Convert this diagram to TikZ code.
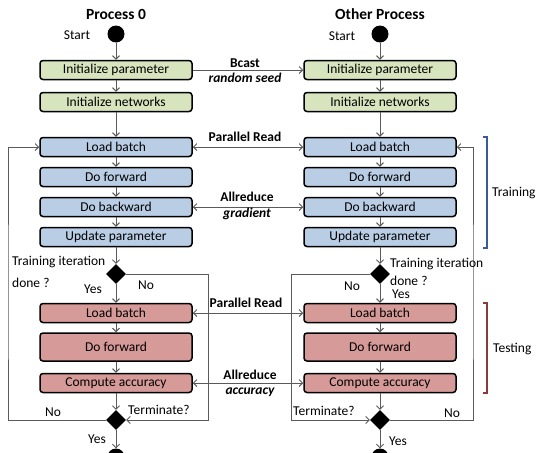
\documentclass[tikz,border=0pt]{standalone}
\usepackage{fontspec}
\setmainfont{Carlito}
\usetikzlibrary{arrows.meta,shapes.geometric}
\definecolor{boxgreen}{HTML}{D7E4BD}
\definecolor{boxblue}{HTML}{B9CDE5}
\definecolor{boxred}{HTML}{D69A98}
\definecolor{linegray}{HTML}{5A5A5A}
\definecolor{brblue}{HTML}{3A5A9A}
\definecolor{brred}{HTML}{8B3A3A}
\begin{document}
\begin{tikzpicture}[x=1pt,y=-1pt,
  font=\fontsize{13.5}{15}\selectfont,
  box/.style={draw=black,line width=1.5pt,rounded corners=3pt,minimum width=152pt,minimum height=19pt,inner sep=0pt},
  gbox/.style={box,fill=boxgreen},
  bbox/.style={box,fill=boxblue},
  rbox/.style={box,fill=boxred},
  conn/.style={draw=linegray,line width=0.9pt,-{Straight Barb[length=3.5pt,width=7pt]}},
  dconn/.style={draw=linegray,line width=0.9pt,{Straight Barb[length=3.5pt,width=7pt]}-{Straight Barb[length=3.5pt,width=7pt]}},
  dia/.style={diamond,fill=black,minimum width=20pt,minimum height=20pt,inner sep=0pt},
  dot/.style={circle,fill=black,minimum size=17pt,inner sep=0pt},
  lab/.style={inner sep=0pt},
  blab/.style={inner sep=0pt,font=\fontsize{13.5}{15}\selectfont\bfseries},
  ilab/.style={inner sep=0pt,font=\fontsize{13.5}{15}\selectfont\bfseries\itshape},
  title/.style={inner sep=0pt,font=\fontsize{15.5}{17}\selectfont\bfseries}
]
\clip (0,0) rectangle (539,453);

% titles
\node[title] (t0) at (116,14) {Process 0};
\node[title] (t1) at (380,14) {Other Process};

% left column
\node[dot] (sL) at (116,34) {};
\node[lab] (stL) at (77,35) {Start};
\node[gbox] (ipL) at (116,70) {Initialize parameter};
\node[gbox] (inL) at (116,102) {Initialize networks};
\node[bbox] (lbL) at (116,147) {Load batch};
\node[bbox] (dfL) at (116,177) {Do forward};
\node[bbox] (dbL) at (116,207) {Do backward};
\node[bbox] (upL) at (116,237) {Update parameter};
\node[dia] (d1L) at (116,274) {};
\node[rbox] (tlL) at (116,313) {Load batch};
\node[rbox,minimum height=28pt] (tfL) at (116,347) {Do forward};
\node[rbox] (caL) at (116,383) {Compute accuracy};
\node[dia] (d2L) at (116,420) {};
\node[dot] (eL) at (116,457) {};

% right column
\node[dot] (sR) at (380,34) {};
\node[lab] (stR) at (342,36) {Start};
\node[gbox] (ipR) at (380,70) {Initialize parameter};
\node[gbox] (inR) at (380,102) {Initialize networks};
\node[bbox] (lbR) at (380,147) {Load batch};
\node[bbox] (dfR) at (380,177) {Do forward};
\node[bbox] (dbR) at (380,207) {Do backward};
\node[bbox] (upR) at (380,237) {Update parameter};
\node[dia] (d1R) at (380,274) {};
\node[rbox] (tlR) at (380,313) {Load batch};
\node[rbox,minimum height=28pt] (tfR) at (380,347) {Do forward};
\node[rbox] (caR) at (380,383) {Compute accuracy};
\node[dia] (d2R) at (380,420) {};
\node[dot] (eR) at (380,457) {};

% vertical flow
\foreach \c in {L,R}{
  \draw[conn] (s\c) -- (ip\c);
  \draw[conn] (ip\c) -- (in\c);
  \draw[conn] (in\c) -- (lb\c);
  \draw[conn] (lb\c) -- (df\c);
  \draw[conn] (df\c) -- (db\c);
  \draw[conn] (db\c) -- (up\c);
  \draw[conn] (up\c) -- (d1\c.north);
  \draw[conn] (d1\c.south) -- (tl\c);
  \draw[conn] (tl\c) -- (tf\c);
  \draw[conn] (tf\c) -- (ca\c);
  \draw[conn] (ca\c) -- (d2\c.north);
  \draw[conn] (d2\c.south) -- (e\c);
}

% loops
\coordinate (lc1) at (208,420);
\coordinate (lo) at (8,300);
\coordinate (rc1) at (291,420);
\coordinate (ro) at (473,300);
\draw[conn] (d1L.east) -| (lc1) -- (d2L.east);
\draw[conn] (d2L.west) -| (lo) |- (lbL.west);
\draw[conn] (d1R.west) -| (rc1) -- (d2R.west);
\draw[conn] (d2R.east) -| (ro) |- (lbR.east);

% horizontal communication
\draw[conn] (ipL) -- (ipR);
\draw[dconn] (lbL) -- (lbR);
\draw[dconn] (dbL) -- (dbR);
\draw[dconn] (tlL) -- (tlR);
\draw[dconn] (caL) -- (caR);

\node[blab] (bc) at (245,63) {Bcast};
\node[ilab] (rs) at (245,78) {random seed};
\node[blab] (pr1) at (245,137) {Parallel Read};
\node[blab] (ar1) at (247,197) {Allreduce};
\node[ilab] (gr) at (247,214) {gradient};
\node[blab] (pr2) at (246,303) {Parallel Read};
\node[blab] (ar2) at (250,375) {Allreduce};
\node[ilab] (acc) at (250,392) {accuracy};

% decision labels
\node[lab,anchor=west] (tiL) at (12,262) {Training iteration};
\node[lab,anchor=west] (dnL) at (12,283) {done ?};
\node[lab] (yL1) at (93,289) {Yes};
\node[lab] (nL1) at (146,285) {No};
\node[lab,anchor=west] (tiR) at (390,264) {Training iteration};
\node[lab,anchor=west] (dnR) at (390,281) {done ?};
\node[lab] (yR1) at (401,294) {Yes};
\node[lab] (nR1) at (352,286) {No};
\node[lab,anchor=west] (tmL) at (128,410) {Terminate?};
\node[lab] (nL2) at (53,412) {No};
\node[lab] (yL2) at (97,439) {Yes};
\node[lab,anchor=west] (tmR) at (293,411) {Terminate?};
\node[lab] (nR2) at (452,413) {No};
\node[lab] (yR2) at (398,441) {Yes};

% brackets
\draw[brblue,line width=1.2pt] (483,137) -- (487,137) -- (487,248) -- (483,248);
\draw[brred,line width=1.2pt] (483,303) -- (487,303) -- (487,393) -- (483,393);
\node[lab,anchor=west] (trn) at (492,193) {Training};
\node[lab,anchor=west] (tst) at (493,349) {Testing};
\end{tikzpicture}
\end{document}
